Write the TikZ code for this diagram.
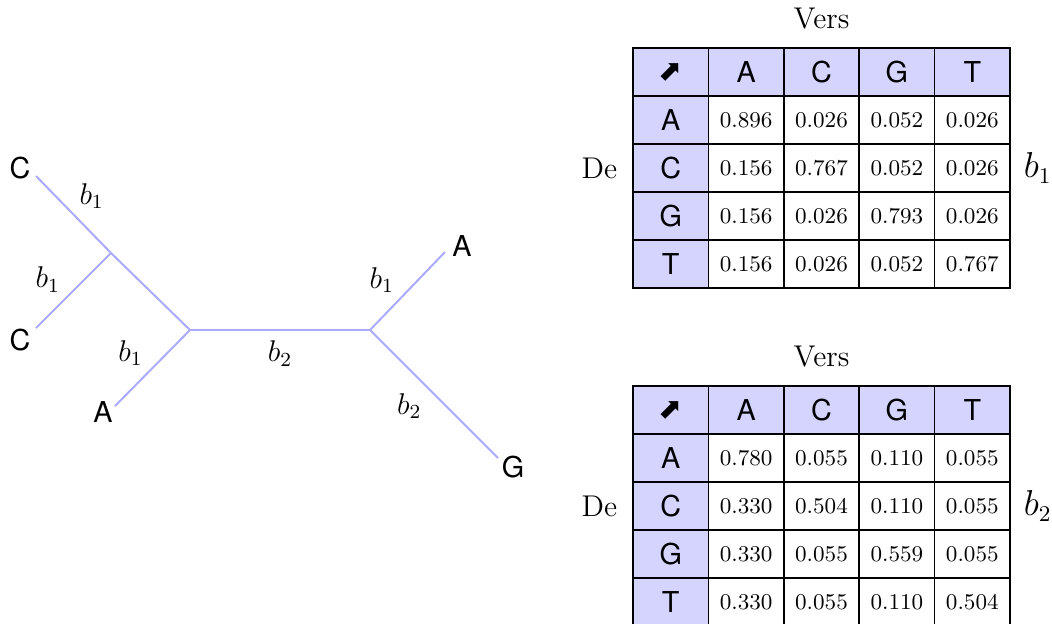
\documentclass[tikz,border=0pt]{standalone}
\usepackage{fontspec}
\usetikzlibrary{matrix, positioning}
\newfontfamily\helvfont{TeX Gyre Heros}
\newfontfamily\symfont{DejaVu Sans}
\definecolor{treeBlue}{HTML}{AAAAFF}
\definecolor{headFill}{HTML}{D4D4FF}
\tikzset{
  branch/.style={treeBlue, line width=0.8pt},
  leaf/.style={font=\fontsize{11.5}{13}\selectfont\helvfont, inner sep=1pt},
  blabel/.style={text=black, font=\large, inner sep=2pt},
  side/.style={font=\large},
  rate/.style={font=\fontsize{13.5}{15}\selectfont},
  cell/.style={draw, line width=0.6pt, anchor=center, inner sep=0pt,
               minimum width=30.16pt, minimum height=19.2pt, font=\small},
  head/.style={fill=headFill, font=\fontsize{11.5}{13}\selectfont\helvfont},
  transmat/.style={matrix of nodes, nodes={cell}, inner sep=0pt,
                   column sep=-0.6pt, row sep=-0.6pt,
                   row 1/.style={nodes={head}}, column 1/.style={nodes={head}}},
}
\begin{document}
\begin{tikzpicture}[x=0.4pt, y=-0.4pt]
    \useasboundingbox (0,0) rectangle (1052,623);
    % tree
    \coordinate (n1) at (111,253);
    \coordinate (n2) at (190,330);
    \coordinate (n3) at (370,330);
    \coordinate (tipC1) at (36,176);
    \coordinate (tipC2) at (36,328);
    \coordinate (tipA1) at (115,406);
    \coordinate (tipA2) at (445,252);
    \coordinate (tipG) at (498,458);
    \node[leaf] (leafC1) at (20,168) {C};
    \node[leaf] (leafC2) at (20,340) {C};
    \node[leaf] (leafA1) at (103,412) {A};
    \node[leaf] (leafA2) at (462,246) {A};
    \node[leaf] (leafG) at (513,467) {G};
    \draw[branch] (tipC1) -- node[blabel, above right] {$b_1$} (n1) -- (n2);
    \draw[branch] (tipC2) -- node[blabel, above left, pos=0.4] {$b_1$} (n1);
    \draw[branch] (tipA1) -- node[blabel, above left, pos=0.45] {$b_1$} (n2);
    \draw[branch] (n2) -- node[blabel, below=2pt] {$b_2$} (n3);
    \draw[branch] (n3) -- node[blabel, above left, pos=0.4] {$b_1$} (tipA2);
    \draw[branch] (n3) -- node[blabel, below left, pos=0.45] {$b_2$} (tipG);
    % tables
    \matrix (tabB1) [transmat] at (821.5,168) {
      {\symfont ⬈} & A & C & G & T \\
      A & 0.896 & 0.026 & 0.052 & 0.026 \\
      C & 0.156 & 0.767 & 0.052 & 0.026 \\
      G & 0.156 & 0.026 & 0.793 & 0.026 \\
      T & 0.156 & 0.026 & 0.052 & 0.767 \\
    };
    \node[side, above=3.5pt of tabB1] (versB1) {Vers};
    \node[side, left=2.3pt of tabB1] (deB1) {De};
    \node[rate, right=1.5pt of tabB1] (rateB1) {$b_1$};
    \matrix (tabB2) [transmat] at (821.5,506) {
      {\symfont ⬈} & A & C & G & T \\
      A & 0.780 & 0.055 & 0.110 & 0.055 \\
      C & 0.330 & 0.504 & 0.110 & 0.055 \\
      G & 0.330 & 0.055 & 0.559 & 0.055 \\
      T & 0.330 & 0.055 & 0.110 & 0.504 \\
    };
    \node[side, above=3.5pt of tabB2] (versB2) {Vers};
    \node[side, left=2.3pt of tabB2] (deB2) {De};
    \node[rate, right=1.5pt of tabB2] (rateB2) {$b_2$};
\end{tikzpicture}
\end{document}
